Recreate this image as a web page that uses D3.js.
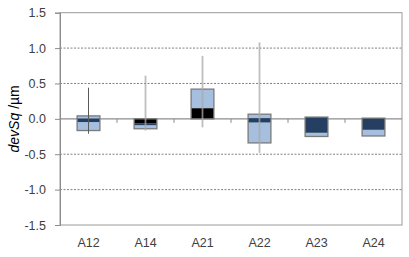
<!DOCTYPE html>
<html><head><meta charset="utf-8">
<script src="https://cdn.jsdelivr.net/npm/d3@7"></script>
<style>body{margin:0;background:#fff}svg{display:block}text{font-family:"Liberation Sans",Arial,sans-serif}</style>
</head><body><svg id="c" width="409" height="257"></svg>
<script>
const categories = ["A12","A14","A21","A22","A23","A24"];
const yTicks = [-1.5,-1.0,-0.5,0.0,0.5,1.0,1.5];
// box segments [from, to]
const lightSeg = [[-0.165,0.042],[-0.14,-0.09],[0.15,0.42],[-0.34,0.066],[-0.249,-0.197],[-0.242,-0.155]];
const navySeg  = [[-0.045,0.005],[-0.09,-0.065],null,[-0.05,0.01],[-0.197,0.025],[-0.155,0.01]];
const blackSeg = [null,[-0.065,0.0],[0.0,0.15],null,null,null];
const whiskerLow  = [-0.21,-0.165,-0.12,-0.48,null,null];
const whiskerHigh = [0.44,0.61,0.89,1.08,null,null];

const svg = d3.select("#c");
const L=60,R=402,T=12.7,B=225;
const y = d3.scaleLinear().domain([-1.5,1.5]).range([B,T]);
const x = d3.scaleBand().domain(categories).range([L,R]).paddingInner(0.6).paddingOuter(0.3);

// gridlines
svg.append("g").selectAll("line").data(yTicks.filter(v=>v!==0 && Math.abs(v)!==1.5)).join("line")
  .attr("x1",L).attr("x2",R).attr("y1",d=>y(d)).attr("y2",d=>y(d))
  .attr("stroke","#808080").attr("stroke-width",1).attr("stroke-dasharray","2,1.5");
// border
svg.append("rect").attr("x",L).attr("y",y(1.5)).attr("width",R-L).attr("height",y(-1.5)-y(1.5))
  .attr("fill","none").attr("stroke","#9a9a9a").attr("stroke-width",1);

// y axis
const ya = svg.append("g").attr("transform",`translate(${L},0)`)
  .call(d3.axisLeft(y).tickValues(yTicks).tickFormat(d=>d.toFixed(1)).tickSize(5).tickPadding(9));
ya.select(".domain").attr("stroke","#8c8c8c");
ya.selectAll(".tick line").attr("stroke","#8c8c8c");
ya.selectAll("text").attr("font-size",12.5).attr("fill","#404040").attr("font-family","Liberation Sans, Arial, sans-serif");

// zero line and category ticks
svg.append("line").attr("x1",L).attr("x2",R).attr("y1",y(0)).attr("y2",y(0)).attr("stroke","#8c8c8c").attr("stroke-width",1.2);
const step = x.step();
svg.append("g").selectAll("line").data(categories.slice(1)).join("line")
  .attr("x1",d=>x(d)-step*0.3).attr("x2",d=>x(d)-step*0.3)
  .attr("y1",y(0)).attr("y2",y(0)+4).attr("stroke","#8c8c8c");

// boxes
const bw = x.bandwidth();
function seg(arr,color){
  svg.append("g").selectAll("rect").data(categories.map((c,i)=>({c,s:arr[i]})).filter(d=>d.s)).join("rect")
    .attr("x",d=>x(d.c)).attr("width",bw)
    .attr("y",d=>y(d.s[1])).attr("height",d=>y(d.s[0])-y(d.s[1]))
    .attr("fill",color);
}
seg(lightSeg,"#a7bfdf");
seg(navySeg,"#243f62");
seg(blackSeg,"#000000");
// box outlines
svg.append("g").selectAll("rect").data(categories.map((c,i)=>{
  const vals=[lightSeg[i],navySeg[i],blackSeg[i]].filter(Boolean).flat();
  return {c,lo:d3.min(vals),hi:d3.max(vals)};
})).join("rect")
  .attr("x",d=>x(d.c)).attr("width",bw).attr("y",d=>y(d.hi)).attr("height",d=>y(d.lo)-y(d.hi))
  .attr("fill","none").attr("stroke","#7a7a7a").attr("stroke-width",1.3);

// whiskers
svg.append("g").selectAll("line").data(categories.map((c,i)=>({c,i,lo:whiskerLow[i],hi:whiskerHigh[i]})).filter(d=>d.lo!==null)).join("line")
  .attr("x1",d=>x(d.c)+bw/2).attr("x2",d=>x(d.c)+bw/2)
  .attr("y1",d=>y(d.hi)).attr("y2",d=>y(d.lo))
  .attr("stroke",d=>d.i===0?"#5a5a5a":"#a8a8a8")
  .attr("stroke-opacity",d=>d.i===0?1:0.75)
  .attr("stroke-width",d=>d.i===0?1:1.8);

// category labels
svg.append("g").selectAll("text").data(categories).join("text")
  .attr("x",d=>x(d)+bw/2).attr("y",247).attr("text-anchor","middle")
  .attr("font-size",12.5).attr("fill","#404040").text(d=>d);

// y title
const t = svg.append("text").attr("transform",`translate(19,${y(0)}) rotate(-90)`)
  .attr("text-anchor","middle").attr("font-size",14).attr("fill","#000");
t.append("tspan").attr("font-style","italic").text("devSq");
t.append("tspan").text(" /µm");
</script></body></html>
